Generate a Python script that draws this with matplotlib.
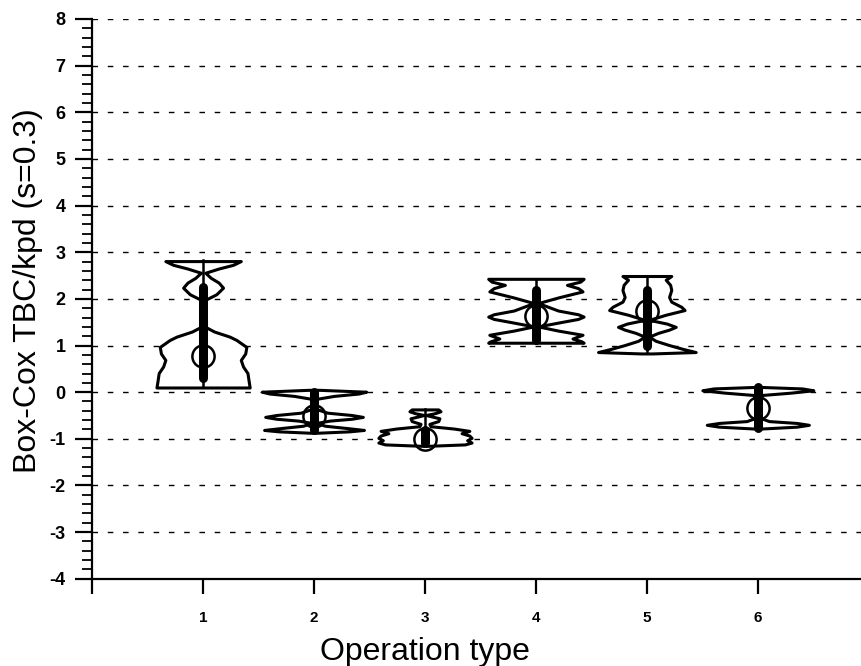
import numpy as np
import matplotlib.pyplot as plt
from matplotlib.ticker import MultipleLocator

plt.rcParams['font.family'] = ['Liberation Sans', 'DejaVu Sans']
plt.rcParams['axes.unicode_minus'] = False

# operation types on the x axis
op_types = [1, 2, 3, 4, 5, 6]
x_ticks = [0, 1, 2, 3, 4, 5, 6]
x_tick_labels = ['', '1', '2', '3', '4', '5', '6']
y_ticks = [-4, -3, -2, -1, 0, 1, 2, 3, 4, 5, 6, 7, 8]

# violin outlines: levels (Box-Cox value) and half widths of the density
y_op1 = [0.10, 0.25, 0.41, 0.55, 0.69, 0.83, 0.97, 1.12, 1.19, 1.30, 1.40, 1.70, 1.98,
         2.10, 2.24, 2.35, 2.45, 2.56, 2.65, 2.73, 2.81]
w_op1 = [0.42, 0.41, 0.40, 0.36, 0.34, 0.38, 0.39, 0.30, 0.24, 0.10, 0.02, 0.01, 0.02,
         0.12, 0.18, 0.14, 0.07, 0.02, 0.14, 0.27, 0.34]

y_op2 = [-0.87, -0.84, -0.81, -0.77, -0.72, -0.66, -0.61, -0.57, -0.53, -0.49, -0.44,
         -0.36, -0.25, -0.14, -0.08, -0.03, 0.01, 0.05]
w_op2 = [0.03, 0.32, 0.45, 0.30, 0.10, 0.02, 0.14, 0.34, 0.44, 0.34, 0.12,
         0.02, 0.01, 0.03, 0.18, 0.40, 0.47, 0.05]

y_op3 = [-1.15, -1.12, -1.08, -1.03, -0.98, -0.93, -0.88, -0.83, -0.78, -0.73, -0.68,
         -0.62, -0.56, -0.52, -0.49, -0.45, -0.41, -0.37]
w_op3 = [0.03, 0.36, 0.42, 0.38, 0.42, 0.40, 0.33, 0.40, 0.26, 0.05, 0.04,
         0.12, 0.13, 0.06, 0.01, 0.09, 0.14, 0.12]

y_op4 = [1.06, 1.09, 1.15, 1.23, 1.32, 1.41, 1.50, 1.57, 1.62, 1.67, 1.75, 1.91,
         2.03, 2.16, 2.23, 2.30, 2.37, 2.43]
w_op4 = [0.43, 0.41, 0.33, 0.42, 0.20, 0.02, 0.22, 0.38, 0.43, 0.38, 0.20, 0.02,
         0.20, 0.42, 0.38, 0.28, 0.40, 0.43]

y_op5 = [0.83, 0.86, 0.93, 1.01, 1.10, 1.19, 1.27, 1.34, 1.40, 1.47, 1.55, 1.66,
         1.76, 1.83, 1.94, 2.04, 2.19, 2.30, 2.41, 2.49]
w_op5 = [0.05, 0.44, 0.32, 0.20, 0.08, 0.02, 0.10, 0.20, 0.26, 0.18, 0.02, 0.17,
         0.34, 0.31, 0.22, 0.20, 0.22, 0.21, 0.17, 0.22]

y_op6 = [-0.78, -0.74, -0.70, -0.66, -0.62, -0.55, -0.40, -0.20, -0.06, -0.01,
         0.04, 0.08, 0.11]
w_op6 = [0.03, 0.35, 0.46, 0.35, 0.10, 0.02, 0.01, 0.01, 0.04, 0.30,
         0.50, 0.40, 0.05]

# box statistics drawn inside each violin
lo_whisker = [0.10, -0.86, -1.14, 1.06, 0.84, -0.77]
q1 = [0.30, -0.81, -1.09, 1.12, 1.00, -0.76]
median = [0.77, -0.51, -1.01, 1.64, 1.74, -0.34]
q3 = [2.25, 0.00, -0.81, 2.19, 2.19, 0.10]
hi_whisker = [2.84, 0.04, -0.37, 2.43, 2.49, 0.11]

profiles_y = [y_op1, y_op2, y_op3, y_op4, y_op5, y_op6]
profiles_w = [w_op1, w_op2, w_op3, w_op4, w_op5, w_op6]

fig, ax = plt.subplots(figsize=(8.61, 6.66), dpi=100)
fig.subplots_adjust(left=0.107, right=1.0, bottom=0.131, top=0.9715)

for i, pos in enumerate(op_types):
    ys = np.array(profiles_y[i])
    ws = np.array(profiles_w[i])
    ax.fill_betweenx(ys, pos - ws, pos + ws, facecolor='white',
                     edgecolor='black', linewidth=2.2, zorder=2)
    ax.plot([pos, pos], [lo_whisker[i], hi_whisker[i]], color='black', lw=1.8, zorder=3)
    ax.plot([pos, pos], [q1[i], q3[i]], color='black', lw=6.5,
            solid_capstyle='round', zorder=3)
    ax.plot(pos, median[i], 'o', ms=16, mfc='none', mec='black', mew=1.8, zorder=4)

ax.set_xlim(0, 6.93)
ax.set_ylim(-4, 8)
ax.set_xticks(x_ticks)
ax.set_xticklabels(x_tick_labels)
ax.set_yticks(y_ticks)
ax.yaxis.set_minor_locator(MultipleLocator(0.2))

ax.set_axisbelow(True)
ax.grid(axis='y', color='black', linestyle=(0, (4, 7)), linewidth=1.0)

for side in ['top', 'right']:
    ax.spines[side].set_visible(False)
for side in ['left', 'bottom']:
    ax.spines[side].set_linewidth(1.6)

ax.tick_params(axis='y', which='major', length=12, width=1.6, pad=7, labelsize=13)
ax.tick_params(axis='y', which='minor', length=7, width=1.3)
ax.tick_params(axis='x', which='major', length=11, width=1.6, pad=12, labelsize=11)
for lab in ax.get_xticklabels() + ax.get_yticklabels():
    lab.set_fontweight('bold')

ax.set_xlabel('Operation type', fontsize=23)
ax.set_ylabel('Box-Cox TBC/kpd (s=0.3)', fontsize=23)
ax.xaxis.set_label_coords(0.433, -0.104)
ax.yaxis.set_label_coords(-0.064, 0.515)

fig.savefig('out.png', dpi=100)
